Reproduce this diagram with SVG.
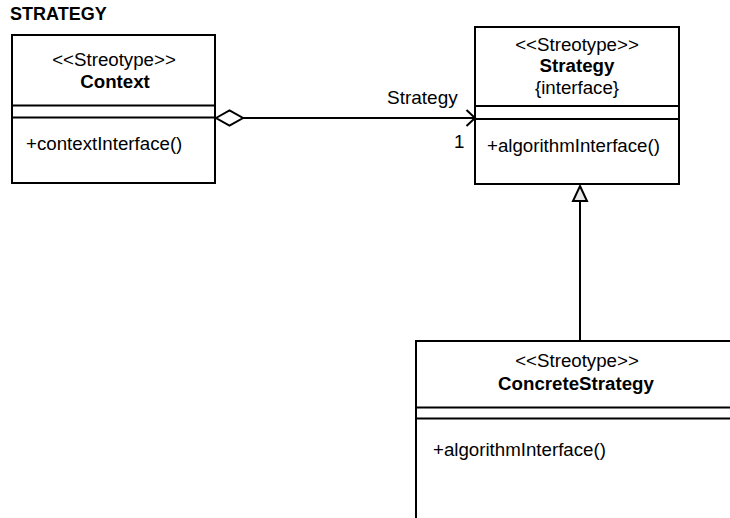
<svg xmlns="http://www.w3.org/2000/svg" width="730" height="518" viewBox="0 0 730 518">
<style>
text{font-family:"Liberation Sans",Arial,sans-serif;font-size:18.7px;fill:#000}
.b{font-weight:bold}
.c{text-anchor:middle}
.box{fill:#fff;stroke:#000;stroke-width:2}
.ln{stroke:#000;stroke-width:2;fill:none}
</style>
<rect width="730" height="518" fill="#fff"/>
<text x="10" y="20" class="b" style="font-size:18px">STRATEGY</text>
<g id="context">
<rect class="box" x="12" y="35" width="203" height="148"/>
<line class="ln" x1="12" y1="105.5" x2="215" y2="105.5"/>
<line class="ln" x1="12" y1="117.5" x2="215" y2="117.5"/>
<text x="114" y="66" class="c">&lt;&lt;Streotype&gt;&gt;</text>
<text x="115" y="88" class="c b">Context</text>
<text x="26" y="150">+contextInterface()</text>
</g>
<g id="strategy">
<rect class="box" x="475" y="27" width="204" height="157"/>
<line class="ln" x1="475" y1="106" x2="679" y2="106"/>
<line class="ln" x1="475" y1="119" x2="679" y2="119"/>
<text x="577" y="51" class="c">&lt;&lt;Streotype&gt;&gt;</text>
<text x="577" y="72" class="c b">Strategy</text>
<text x="577" y="94" class="c">{interface}</text>
<text x="487" y="152">+algorithmInterface()</text>
</g>
<g id="concrete">
<rect class="box" x="416" y="341" width="322" height="190"/>
<line class="ln" x1="416" y1="407.5" x2="738" y2="407.5"/>
<line class="ln" x1="416" y1="418.5" x2="738" y2="418.5"/>
<text x="577" y="367" class="c">&lt;&lt;Streotype&gt;&gt;</text>
<text x="576" y="390" class="c b">ConcreteStrategy</text>
<text x="433" y="456">+algorithmInterface()</text>
</g>
<g id="connectors">
<line class="ln" x1="243" y1="118" x2="474" y2="118"/>
<polygon class="ln" points="216,118 229.5,110.5 243,118 229.5,125.5" fill="#fff"/>
<polyline class="ln" points="466.5,110 475,118 466.5,126"/>
<text x="387" y="104" style="font-size:19px">Strategy</text>
<text x="454" y="148">1</text>
<line class="ln" x1="580" y1="201" x2="580" y2="341"/>
<polygon points="580,186 587,201 573,201" fill="#e6e6e6" stroke="#000" stroke-width="2"/>
</g>
</svg>
